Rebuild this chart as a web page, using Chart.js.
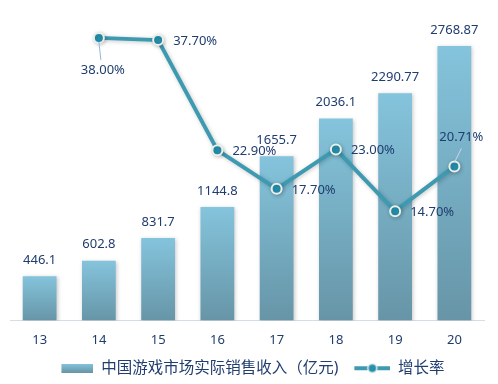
<!DOCTYPE html>
<html>
<head>
<meta charset="utf-8">
<script src="https://cdn.jsdelivr.net/npm/chart.js@4.4.1/dist/chart.umd.min.js"></script>
<style>
  html, body { margin: 0; padding: 0; background: #fff; }
  #wrap { width: 498px; height: 384px; }
</style>
</head>
<body>
<div id="wrap"><canvas id="grafico"></canvas></div>
<script>
// dados
const anos      = ['13', '14', '15', '16', '17', '18', '19', '20'];
const receita   = [446.1, 602.8, 831.7, 1144.8, 1655.7, 2036.1, 2290.77, 2768.87];
const crescimento = [null, 38.00, 37.70, 22.90, 17.70, 23.00, 14.70, 20.71];

const nomeReceita = '中国游戏市场实际销售收入（亿元)';
const nomeCrescimento = '增长率';

const corTexto = '#1f3d6f';
const corLinha = '#3e9ab1';
const fonte = "'Noto Sans', 'Noto Sans CJK SC', sans-serif";

// onde fica cada rótulo da linha
const posRotuloLinha = ['', 'below', 'right', 'right', 'right', 'right', 'right', 'above'];

function gradienteBarra(ctx, topo, base) {
    const g = ctx.createLinearGradient(0, topo, 0, base);
    g.addColorStop(0, '#84c4dc');
    g.addColorStop(1, '#6795a7');
    return g;
}

// ícones da legenda (margem transparente à esquerda p/ afastar os itens)
const LARG_ICONE = 44;
function iconeBarra() {
    const c = document.createElement('canvas');
    c.width = LARG_ICONE; c.height = 9;
    const ctx = c.getContext('2d');
    ctx.fillStyle = gradienteBarra(ctx, 0, 9);
    ctx.fillRect(LARG_ICONE - 32, 0, 32, 9);
    return c;
}
function iconeLinha() {
    const c = document.createElement('canvas');
    c.width = LARG_ICONE; c.height = 12;
    const ctx = c.getContext('2d');
    const x0 = LARG_ICONE - 36;
    ctx.strokeStyle = corLinha;
    ctx.lineWidth = 4;
    ctx.beginPath(); ctx.moveTo(x0, 6); ctx.lineTo(LARG_ICONE, 6); ctx.stroke();
    ctx.beginPath(); ctx.arc(x0 + 18, 6, 4.5, 0, Math.PI * 2);
    ctx.fillStyle = '#2590ae'; ctx.fill();
    ctx.strokeStyle = '#e9efe9'; ctx.lineWidth = 1.5; ctx.stroke();
    return c;
}

const sombra = {
    id: 'sombra',
    beforeDatasetDraw(chart) {
        const ctx = chart.ctx;
        ctx.save();
        ctx.shadowColor = 'rgba(0,0,0,0.22)';
        ctx.shadowBlur = 4;
        ctx.shadowOffsetX = 1;
        ctx.shadowOffsetY = 1;
    },
    afterDatasetDraw(chart) {
        chart.ctx.restore();
    }
};

const rotulos = {
    id: 'rotulos',
    afterDatasetsDraw(chart) {
        const ctx = chart.ctx;
        ctx.save();
        ctx.font = `13px ${fonte}`;
        ctx.fillStyle = corTexto;
        ctx.textBaseline = 'middle';

        // barras
        const barras = chart.getDatasetMeta(0).data;
        barras.forEach((b, i) => {
            ctx.textAlign = 'center';
            ctx.fillText(String(receita[i]), b.x, b.y - 16);
        });

        // linha
        const pontos = chart.getDatasetMeta(1).data;
        pontos.forEach((p, i) => {
            const v = crescimento[i];
            if (v == null) return;
            const txt = v.toFixed(2) + '%';
            const pos = posRotuloLinha[i];
            let x = p.x, y = p.y;
            if (pos === 'right') {
                ctx.textAlign = 'left';
                x = p.x + 15; y = p.y + 1;
            } else if (pos === 'below') {
                ctx.textAlign = 'center';
                x = p.x + 4; y = p.y + 32;
                ctx.strokeStyle = '#8fb6e0'; ctx.lineWidth = 1;
                ctx.beginPath(); ctx.moveTo(p.x, p.y + 4); ctx.lineTo(p.x + 2, p.y + 22); ctx.stroke();
            } else if (pos === 'above') {
                ctx.textAlign = 'center';
                x = p.x + 7; y = p.y - 29;
                ctx.strokeStyle = '#c9d6f0'; ctx.lineWidth = 1;
                ctx.beginPath(); ctx.moveTo(p.x, p.y - 4); ctx.lineTo(p.x + 7, p.y - 18); ctx.stroke();
            }
            ctx.fillText(txt, x, y);
        });
        ctx.restore();
    }
};

const canvas = document.getElementById('grafico');
new Chart(canvas, {
    type: 'bar',
    data: {
        labels: anos,
        datasets: [
            {
                label: nomeReceita,
                data: receita,
                yAxisID: 'y',
                order: 1,
                barPercentage: 0.57,
                categoryPercentage: 1,
                borderWidth: 0,
                backgroundColor: (c) => {
                    const area = c.chart.chartArea;
                    if (!area || c.parsed == null) return '#79b0c4';
                    const topo = c.chart.scales.y.getPixelForValue(c.parsed.y);
                    return gradienteBarra(c.chart.ctx, topo, area.bottom);
                },
            },
            {
                type: 'line',
                label: nomeCrescimento,
                data: crescimento,
                yAxisID: 'y2',
                order: 0,
                borderColor: corLinha,
                borderWidth: 4,
                pointRadius: 5,
                pointBorderWidth: 2,
                pointBackgroundColor: '#2590ae',
                pointBorderColor: '#e9efe9',
                tension: 0,
                spanGaps: false,
            }
        ]
    },
    options: {
        responsive: true,
        maintainAspectRatio: false,
        animation: false,
        layout: { padding: { left: 10, right: 14, top: 23, bottom: -2 } },
        plugins: {
            tooltip: { enabled: false },
            legend: {
                position: 'bottom',
                labels: {
                    color: corTexto,
                    font: { size: 15.5, family: fonte },
                    usePointStyle: true,
                    pointStyleWidth: LARG_ICONE,
                    padding: 8,
                    generateLabels: () => [
                        { text: nomeReceita, pointStyle: iconeBarra(), fontColor: corTexto, datasetIndex: 0, lineWidth: 0 },
                        { text: nomeCrescimento, pointStyle: iconeLinha(), fontColor: corTexto, datasetIndex: 1, lineWidth: 0 },
                    ]
                }
            }
        },
        scales: {
            x: {
                grid: { display: false, drawTicks: false },
                border: { display: true, color: '#d5dde6', width: 1 },
                ticks: { color: corTexto, font: { size: 13, family: fonte }, padding: 12 },
                afterFit: (s) => { s.height = 32; }
            },
            y: { display: false, min: 0, max: 3000 },
            y2: { display: false, min: 0, max: 40, position: 'right' }
        }
    },
    plugins: [sombra, rotulos]
});
</script>
</body>
</html>
